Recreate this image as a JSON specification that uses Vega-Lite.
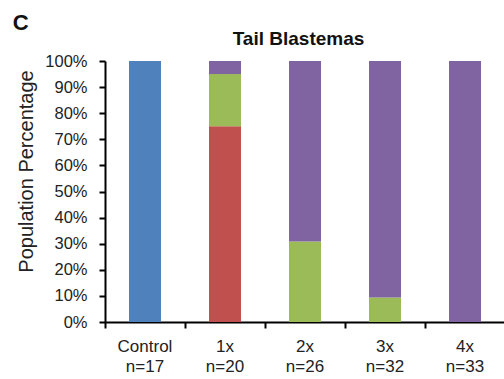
{
  "$schema": "https://vega.github.io/schema/vega-lite/v6.json",
  "autosize": "none",
  "width": 400,
  "height": 261,
  "padding": {"left": 105, "top": 61, "right": 0, "bottom": 57},
  "background": "white",
  "title": {"text": "C", "anchor": "start", "frame": "bounds", "fontSize": 22, "font": "Liberation Sans", "fontWeight": "bold", "color": "#111", "dx": -4, "offset": -6},
  "config": {"view": {"stroke": null}, "font": "Liberation Sans"},
  "data": {"values": [
    {"cat": "Control|n=17", "grp": "blue", "ord": 1, "val": 100},
    {"cat": "1x|n=20", "grp": "red", "ord": 2, "val": 75},
    {"cat": "1x|n=20", "grp": "green", "ord": 3, "val": 20},
    {"cat": "1x|n=20", "grp": "purple", "ord": 4, "val": 5},
    {"cat": "2x|n=26", "grp": "green", "ord": 3, "val": 30.8},
    {"cat": "2x|n=26", "grp": "purple", "ord": 4, "val": 69.2},
    {"cat": "3x|n=32", "grp": "green", "ord": 3, "val": 9.4},
    {"cat": "3x|n=32", "grp": "purple", "ord": 4, "val": 90.6},
    {"cat": "4x|n=33", "grp": "purple", "ord": 4, "val": 100}
  ]},
  "layer": [
    {
      "mark": {"type": "bar"},
      "encoding": {
        "x": {"field": "cat", "type": "nominal", "sort": null,
          "scale": {"paddingInner": 0.6, "paddingOuter": 0.3},
          "axis": {"title": null, "labelAngle": 0, "labelExpr": "split(datum.value, '|')", "labelFontSize": 17, "labelColor": "#222", "labelLineHeight": 20, "labelPadding": 10, "bandPosition": -0.75, "tickSize": 6, "tickColor": "#000", "tickWidth": 2, "domainColor": "#000", "domainWidth": 2}},
        "y": {"field": "val", "type": "quantitative", "stack": "zero",
          "scale": {"domain": [0, 100], "nice": false},
          "axis": {"title": "Population Percentage", "titleFontSize": 20, "titleFontWeight": "normal", "titleColor": "#222", "titlePadding": 8, "titleY": 110, "values": [0,10,20,30,40,50,60,70,80,90,100], "labelExpr": "datum.value + '%'", "labelFontSize": 16.5, "labelColor": "#222", "labelPadding": 12, "grid": false, "tickSize": 6, "tickColor": "#000", "tickWidth": 2, "domainColor": "#000", "domainWidth": 2}},
        "color": {"field": "grp", "type": "nominal", "legend": null,
          "scale": {"domain": ["blue", "red", "green", "purple"], "range": ["#4F81BD", "#C0504D", "#9BBB59", "#8064A2"]}},
        "order": {"field": "ord", "type": "quantitative"}
      }
    },
    {
      "mark": {"type": "bar", "opacity": 0},
      "encoding": {
        "x": {"field": "cat", "type": "nominal", "sort": null,
          "axis": {"orient": "top", "title": "Tail Blastemas", "titleFontSize": 19, "titleFontWeight": "bold", "titleColor": "#111", "titlePadding": 13, "labels": false, "ticks": false, "domain": false, "titleX": 193}}
      }
    }
  ],
  "resolve": {"axis": {"x": "independent"}}
}
